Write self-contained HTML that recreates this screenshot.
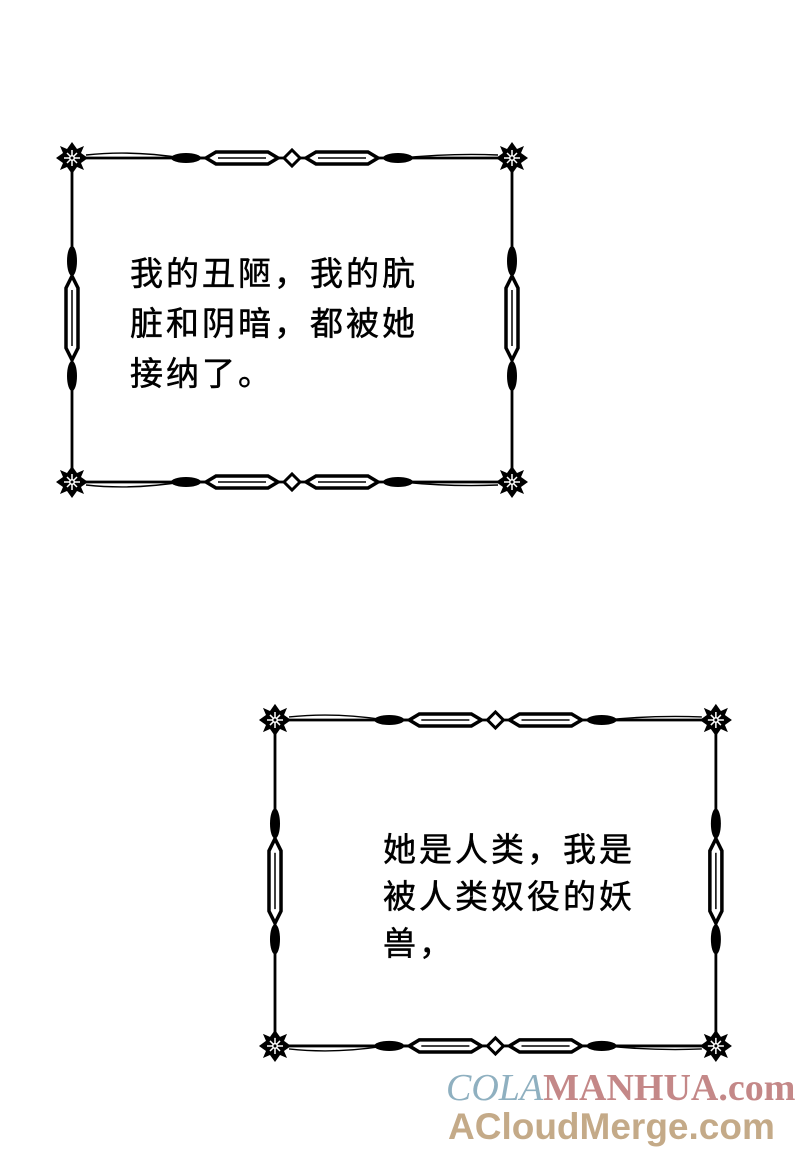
<!DOCTYPE html>
<html><head><meta charset="utf-8"><style>
html,body{margin:0;padding:0;background:#fff;}
body{width:800px;height:1152px;position:relative;overflow:hidden;}
.t{position:absolute;font-family:"Liberation Sans","Noto Sans CJK SC",sans-serif;font-size:33px;line-height:50px;color:#000;white-space:nowrap;letter-spacing:3px;-webkit-text-stroke:0.5px #000;}
.wm{position:absolute;font-family:"Liberation Serif",serif;font-weight:bold;}
</style></head><body>
<svg width="800" height="1152" style="position:absolute;left:0;top:0">
<defs>
<g id="star">
<polygon points="0,-16 5,-9 12,-12 9,-5 16,0 9,5 12,12 5,9 0,16 -5,9 -12,12 -9,5 -16,0 -9,-5 -12,-12 -5,-9" fill="#000"/>
<circle r="10" fill="#000"/>
<circle r="3" fill="#fff"/>
<path d="M0,-8 L0,8 M-8,0 L8,0 M-5,-5 L5,5 M-5,5 L5,-5" stroke="#fff" stroke-width="1.5"/>
<circle r="1.5" fill="#000"/>
</g>
<g id="hdeco">
<path d="M60,0 L95,0" stroke="#000" stroke-width="2.5"/>
<ellipse cx="60" cy="0" rx="15" ry="5" fill="#000"/>
<path d="M80,0 L90,-6 L142,-6 L152,0 L142,6 L90,6 Z" fill="#fff" stroke="#000" stroke-width="3.5"/>
<path d="M92,0 L140,0" stroke="#000" stroke-width="1.5"/>
<path d="M158,0 L166,-8 L174,0 L166,8 Z" fill="#fff" stroke="#000" stroke-width="3"/>
<path d="M180,0 L190,-6 L242,-6 L252,0 L242,6 L190,6 Z" fill="#fff" stroke="#000" stroke-width="3.5"/>
<path d="M192,0 L240,0" stroke="#000" stroke-width="1.5"/>
<ellipse cx="272" cy="0" rx="15" ry="5" fill="#000"/>
</g>
<g id="vdeco">
<ellipse cx="0" cy="95" rx="5" ry="15" fill="#000"/>
<path d="M0,110 L-6,122 L-6,182 L0,194 L6,182 L6,122 Z" fill="#fff" stroke="#000" stroke-width="3.5"/>
<path d="M0,124 L0,180" stroke="#000" stroke-width="1.5"/>
<ellipse cx="0" cy="210" rx="5" ry="15" fill="#000"/>
</g>
<g id="frame">
<path d="M0,0 L440,0 M0,324 L440,324 M0,0 L0,324 M440,0 L440,324" stroke="#000" stroke-width="2.8" fill="none"/>
<path d="M14,-3 Q60,-8 110,0 M14,327 Q60,332 110,324 M330,0 Q380,-5 426,-3 M330,324 Q380,329 426,327" stroke="#000" stroke-width="1.4" fill="none"/>
<use href="#hdeco" x="54" y="0"/>
<use href="#hdeco" x="54" y="324"/>
<use href="#vdeco" x="0" y="8"/>
<use href="#vdeco" x="440" y="8"/>
<use href="#star" x="0" y="0"/><use href="#star" x="440" y="0"/>
<use href="#star" x="0" y="324"/><use href="#star" x="440" y="324"/>
</g>
</defs>
<use href="#frame" x="72" y="158"/>
<use href="#frame" transform="translate(275,720) scale(1.002,1.006)"/>
</svg>
<div class="t" style="left:130px;top:249px">我的丑陋，我的肮<br>脏和阴暗，都被她<br>接纳了。</div>
<div class="t" style="left:383px;top:826px;line-height:47px">她是人类，我是<br>被人类奴役的妖<br>兽，</div>
<div class="wm" style="left:446px;top:1066px;font-size:38px;letter-spacing:0px"><span style="color:#8fb0c0;font-style:italic;font-weight:normal">COLA</span><span style="color:#c48888">MANHUA.com</span></div>
<div class="wm" style="left:448px;top:1106px;font-size:37px;color:#c4aa88;font-family:'Liberation Sans',sans-serif">ACloudMerge.com</div>
</body></html>
